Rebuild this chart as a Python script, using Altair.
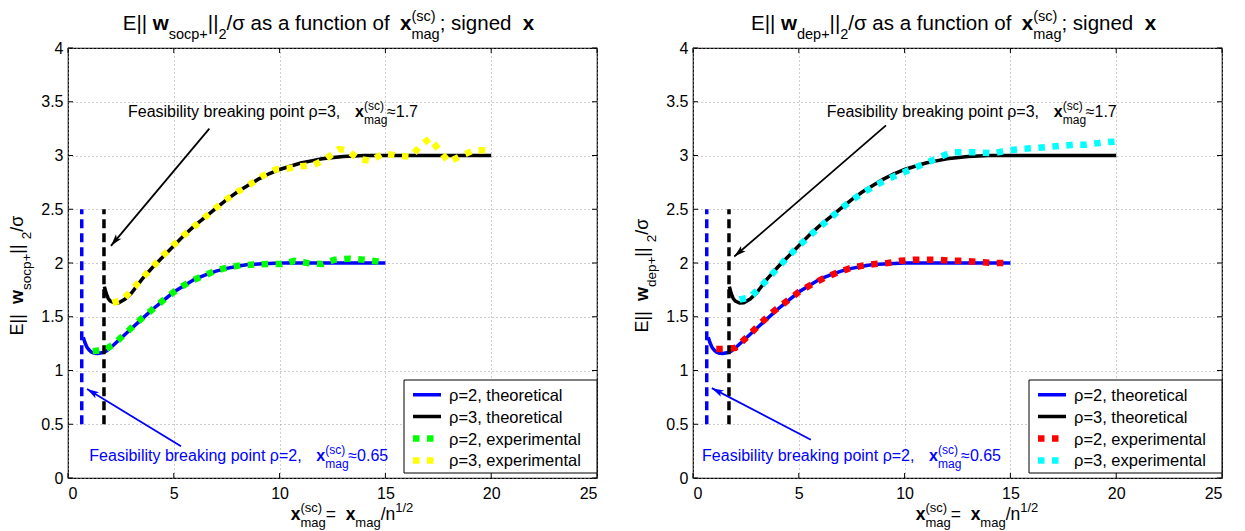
import math
import altair as alt
import pandas as pd

FONT = "Liberation Sans"

# ------------------------------------------------------------------ data
SERIES = ["ρ=2, theoretical", "ρ=3, theoretical", "ρ=2, experimental", "ρ=3, experimental"]

x_ticks = [0, 5, 10, 15, 20, 25]
y_ticks = [0, 0.5, 1, 1.5, 2, 2.5, 3, 3.5, 4]

break_rho2 = 0.65
break_rho3 = 1.7
break_y0 = 0.5
break_y1 = 2.5

# theoretical curves (same in both panels)
th2_x = [0.72, 0.8, 0.9, 1.0, 1.1, 1.25, 1.4, 1.6, 1.8, 2.0, 2.5, 3.0, 3.5, 4.0, 4.5, 5.0,
         5.5, 6.0, 6.5, 7.0, 7.5, 8.0, 8.5, 9.0, 10.0, 12.0, 15.0]
th2_y = [1.31, 1.26, 1.215, 1.19, 1.172, 1.16, 1.158, 1.165, 1.18, 1.21, 1.30, 1.39, 1.48, 1.57,
         1.65, 1.73, 1.79, 1.85, 1.89, 1.925, 1.95, 1.97, 1.985, 1.99, 2.0, 2.0, 2.0]
th3_x = [1.72, 1.8, 1.9, 2.0, 2.2, 2.4, 2.7, 3.0, 3.5, 4.0, 4.5, 5.0, 5.5, 6.0, 6.5, 7.0, 7.5,
         8.0, 8.5, 9.0, 9.5, 10.0, 10.5, 11.0, 11.5, 12.0, 13.0, 14.0, 20.0]
th3_y = [1.78, 1.72, 1.67, 1.645, 1.628, 1.63, 1.665, 1.72, 1.85, 1.96, 2.06, 2.16, 2.26, 2.35,
         2.43, 2.51, 2.59, 2.66, 2.72, 2.78, 2.83, 2.87, 2.90, 2.93, 2.95, 2.97, 2.99, 3.0, 3.0]

# left panel experimental (socp+)
exL2_x = [1.17, 1.7, 2.2, 2.8, 3.4, 4.0, 4.6, 5.2, 5.8, 6.4, 7.0, 7.6, 8.2, 8.8, 9.5, 10.1,
          10.7, 11.3, 12.0, 12.6, 13.3, 14.0, 14.8]
exL2_y = [1.18, 1.19, 1.25, 1.36, 1.47, 1.57, 1.67, 1.76, 1.83, 1.88, 1.93, 1.96, 1.98, 1.985,
          1.99, 1.99, 2.02, 2.0, 1.99, 2.03, 2.04, 2.03, 2.01]
exL3_x = [2.1, 2.6, 3.2, 3.8, 4.4, 5.0, 5.6, 6.2, 6.8, 7.4, 8.0, 8.6, 9.2, 9.8, 10.4, 11.0,
          11.6, 12.2, 12.8, 13.2, 13.7, 14.3, 14.9, 15.5, 16.2, 16.7, 17.1, 17.5, 18.0, 18.6,
          19.2, 19.9]
exL3_y = [1.63, 1.66, 1.79, 1.92, 2.05, 2.17, 2.28, 2.38, 2.48, 2.58, 2.66, 2.73, 2.81, 2.87,
          2.88, 2.90, 2.91, 2.97, 3.06, 3.05, 2.97, 2.95, 3.02, 3.0, 2.99, 3.10, 3.16, 3.06,
          2.94, 3.0, 3.05, 3.05]

# right panel experimental (dep+)
exR2_x = [1.1, 1.6, 2.0, 2.6, 3.2, 3.8, 4.4, 5.0, 5.6, 6.2, 6.8, 7.4, 8.0, 8.6, 9.2, 9.8,
          10.4, 11.0, 11.6, 12.2, 12.8, 13.5, 14.2, 14.9]
exR2_y = [1.2, 1.2, 1.21, 1.32, 1.44, 1.55, 1.64, 1.73, 1.80, 1.86, 1.91, 1.95, 1.975, 1.99,
          2.0, 2.02, 2.03, 2.03, 2.03, 2.02, 2.02, 2.01, 2.0, 2.0]
exR3_x = [2.2, 2.7, 3.2, 3.8, 4.4, 5.0, 5.6, 6.2, 6.8, 7.4, 8.0, 8.6, 9.2, 9.8, 10.4, 11.0,
          11.6, 12.2, 12.8, 13.4, 14.2, 14.9, 15.5, 16.2, 16.8, 17.4, 18.0, 18.6, 19.3, 20.0]
exR3_y = [1.66, 1.68, 1.78, 1.91, 2.04, 2.16, 2.27, 2.37, 2.47, 2.57, 2.65, 2.72, 2.78, 2.83,
          2.88, 2.93, 2.98, 3.03, 3.03, 3.03, 3.02, 3.05, 3.06, 3.07, 3.08, 3.09, 3.10, 3.10,
          3.12, 3.13]

# annotation arrows: start (x, y) -> end (x, y)
arrL_black = [6.68, 3.25, 2.03, 2.16]
arrL_blue = [5.34, 0.295, 0.90, 0.827]
arrR_black = [9.12, 3.28, 1.95, 2.06]
arrR_blue = [5.57, 0.356, 0.89, 0.836]

# annotation text anchors (left start of text, baseline)
txtL_black = [2.835, 3.355]
txtL_blue = [1.007, 0.158]
txtR_black = [6.32, 3.355]
txtR_blue = [0.43, 0.158]

# ------------------------------------------------------------------ layout helpers
W, H = 529, 430
XD, YD = [0, 25], [0, 4]
TICK_PX = 5

CW = {' ': .278, 'E': .667, '|': .26, '/': .278, 'σ': .571, 'ρ': .571, 'a': .556, 's': .5,
      'f': .278, 'u': .556, 'n': .556, 'c': .5, 't': .278, 'i': .222, 'o': .556, ';': .278,
      'g': .556, 'e': .556, 'd': .556, 'p': .556, '+': .584, 'm': .833, '=': .584, '(': .333,
      ')': .333, 'F': .611, 'b': .556, 'l': .222, 'y': .5, 'k': .5, 'r': .333, 'h': .556,
      'x': .5, ',': .278, '.': .278, '≈': .584, 'w': .722}
CWB = {'x': .556, 'w': .778}


def tw(s, size, bold=False):
    tot = 0.0
    for c in s:
        if bold and c in CWB:
            tot += CWB[c]
        else:
            tot += CW.get(c, .556)
    return tot * size


def rich(segs, main, small):
    """returns pieces (text, offset, shift, size, weight) and total advance"""
    out, off = [], 0.0
    sub_sh, sup_sh = 0.42 * main, -0.45 * main
    for seg in segs:
        k = seg[0]
        if k == "n":
            out.append((seg[1], off, 0, main, "normal"))
            off += tw(seg[1], main)
        elif k == "b":
            out.append((seg[1], off, 0, main, "bold"))
            off += tw(seg[1], main, True)
        elif k == "sub":
            out.append((seg[1], off, sub_sh, small, "normal"))
            off += tw(seg[1], small)
        elif k == "sup":
            out.append((seg[1], off, sup_sh, small, "normal"))
            off += tw(seg[1], small)
        elif k == "stack":
            out.append((seg[1], off, sup_sh, small, "normal"))
            out.append((seg[2], off, sub_sh, small, "normal"))
            off += max(tw(seg[1], small), tw(seg[2], small))
    return out, off


ONE = pd.DataFrame({"k": [0]})
xscale = alt.Scale(domain=XD, nice=False, zero=False)
yscale = alt.Scale(domain=YD, nice=False, zero=False)
xaxis = alt.Axis(values=x_ticks, format="d", title=None, labelPadding=7)
yaxis = alt.Axis(values=y_ticks, format="~g", title=None, labelPadding=5)


def X(f):
    return alt.X(f, scale=xscale, axis=xaxis)


def Y(f):
    return alt.Y(f, scale=yscale, axis=yaxis)


def pixel_text(segs, main, small, x0, y0, color="black", rotate=False):
    pieces, total = rich(segs, main, small)
    layers = []
    for text, off, sh, size, weight in pieces:
        if rotate:
            px, py, ang = x0 + sh, y0 + total / 2 - off, 270
        else:
            px, py, ang = x0 - total / 2 + off, y0 + sh, 0
        layers.append(
            alt.Chart(ONE).mark_text(text=text, align="left", baseline="alphabetic", font=FONT,
                                     fontSize=size, fontWeight=weight, color=color, angle=ang)
            .encode(x=alt.value(px), y=alt.value(py)))
    return layers


def data_text(anchor, parts, color):
    df = pd.DataFrame({"x": [anchor[0]], "y": [anchor[1]]})
    layers = []
    for text, dx, dy, size, weight in parts:
        layers.append(
            alt.Chart(df).mark_text(text=text, align="left", baseline="alphabetic", font=FONT,
                                    fontSize=size, fontWeight=weight, color=color, dx=dx, dy=dy)
            .encode(x=X("x:Q"), y=Y("y:Q")))
    return layers


ARROW = "M0,0L-0.55,1.9L0,1.45L0.55,1.9Z"


def arrow(a, color):
    x0, y0, x1, y1 = a
    df = pd.DataFrame({"xs": [x0], "ys": [y0], "xe": [x1], "ye": [y1]})
    ang = math.degrees(math.atan2((x1 - x0) * W / 25, (y1 - y0) * H / 4)) % 360
    line = alt.Chart(df).mark_rule(color=color, strokeWidth=1.8).encode(
        x=X("xs:Q"), y=Y("ys:Q"), x2="xe:Q", y2="ye:Q")
    head = alt.Chart(df).mark_point(shape=ARROW, filled=True, size=160, angle=ang, color=color,
                                    opacity=1, strokeWidth=0).encode(x=X("xe:Q"), y=Y("ye:Q"))
    return [line, head]


def tick_layers():
    dy = TICK_PX * (YD[1] - YD[0]) / H
    dx = TICK_PX * (XD[1] - XD[0]) / W
    xt = pd.DataFrame({"x": x_ticks})
    yt = pd.DataFrame({"y": y_ticks})
    out = []
    for ya, yb in [(YD[0], YD[0] + dy), (YD[1], YD[1] - dy)]:
        out.append(alt.Chart(xt).mark_rule(color="black", strokeWidth=1).encode(
            x=X("x:Q"), y=alt.datum(ya, scale=yscale, axis=yaxis), y2=alt.datum(yb)))
    for xa, xb in [(XD[0], XD[0] + dx), (XD[1], XD[1] - dx)]:
        out.append(alt.Chart(yt).mark_rule(color="black", strokeWidth=1).encode(
            y=Y("y:Q"), x=alt.datum(xa, scale=xscale, axis=xaxis), x2=alt.datum(xb)))
    return out


def legend_layers(colors):
    bx0, by0, bw, bh = 336, 332, 193, 93
    out = [alt.Chart(ONE).mark_rect(fill="white", stroke="black", strokeWidth=1).encode(
        x=alt.value(bx0), x2=alt.value(bx0 + bw), y=alt.value(by0), y2=alt.value(by0 + bh))]
    for i, (lab, col) in enumerate(zip(SERIES, colors)):
        yy = by0 + 14.7 + i * 21.9
        theo = i < 2
        out.append(alt.Chart(ONE).mark_rule(
            color=col, strokeWidth=3.5 if theo else 6.5,
            strokeDash=[1, 0] if theo else [6.5, 7.5], strokeCap="butt").encode(
            x=alt.value(bx0 + 9), x2=alt.value(bx0 + 37), y=alt.value(yy)))
        out.append(alt.Chart(ONE).mark_text(
            text=lab, align="left", baseline="middle", font=FONT, fontSize=16.5,
            color="black").encode(x=alt.value(bx0 + 45), y=alt.value(yy + 1)))
    return out


def line_layer(df, colors, width):
    enc = dict(
        x=X("x:Q"), y=Y("y:Q"),
        color=alt.Color("series:N", scale=alt.Scale(domain=SERIES, range=colors), legend=None),
        order="i:Q",
    )
    if width > 5:
        mk = alt.Chart(df).mark_line(strokeCap="butt", strokeWidth=width, strokeDash=[6.5, 7.5])
    else:
        mk = alt.Chart(df).mark_line(strokeCap="butt", strokeWidth=width)
    return mk.encode(**enc)


def sdf(xs, ys, name):
    return pd.DataFrame({"x": xs, "y": ys, "series": name, "i": list(range(len(xs)))})


def annot_parts(main_text, approx, main=16, small=12):
    return [
        (main_text, 0, 0, main, "normal"),
        ("x", 227, 0, main, "bold"),
        ("(sc)", 236, -0.45 * main, small, "normal"),
        ("mag", 236, 0.42 * main, small, "normal"),
        (approx, 259, 0, main, "normal"),
    ]


def panel(wsub, ex2x, ex2y, ex3x, ex3y, colors, arr_black, arr_blue, t_black, t_blue):
    theory = pd.concat([sdf(th2_x, th2_y, SERIES[0]), sdf(th3_x, th3_y, SERIES[1])])
    exper = pd.concat([sdf(ex2x, ex2y, SERIES[2]), sdf(ex3x, ex3y, SERIES[3])])
    layers = [line_layer(theory, colors, 3.5), line_layer(exper, colors, 6.5)]
    layers += tick_layers()

    for xb, col in [(break_rho2, "#0000ff"), (break_rho3, "black")]:
        bdf = pd.DataFrame({"x": [xb], "y0": [break_y0], "y1": [break_y1]})
        layers.append(alt.Chart(bdf).mark_rule(color=col, strokeWidth=3.5, strokeDash=[9, 5])
                      .encode(x=X("x:Q"), y=Y("y0:Q"), y2="y1:Q"))

    layers += arrow(arr_black, "black")
    layers += arrow(arr_blue, "#0000ff")
    layers += data_text(t_black, annot_parts("Feasibility breaking point ρ=3,", "≈1.7"), "black")
    layers += data_text(t_blue, annot_parts("Feasibility breaking point ρ=2,", "≈0.65"), "#0000ff")
    layers += legend_layers(colors)

    # title
    title_segs = [("n", "E|| "), ("b", "w"), ("sub", wsub), ("n", "||"), ("sub", "2"),
                  ("n", "/σ as a function of  "), ("b", "x"), ("stack", "(sc)", "mag"),
                  ("n", "; signed  "), ("b", "x")]
    layers += pixel_text(title_segs, 20.5, 14.5, W / 2 - 4, -18)
    # y title
    ysegs = [("n", "E||  "), ("b", "w"), ("sub", wsub), ("n", " ||"), ("sub", "2"), ("n", "/σ")]
    layers += pixel_text(ysegs, 18, 13.5, -45, 228, rotate=True)
    # x title
    xsegs = [("b", "x"), ("stack", "(sc)", "mag"), ("n", "=  "), ("b", "x"), ("sub", "mag"),
             ("n", "/n"), ("sup", "1/2")]
    layers += pixel_text(xsegs, 17.5, 13, 284, 472)

    return alt.layer(*layers).properties(width=W, height=H)


left = panel("socp+", exL2_x, exL2_y, exL3_x, exL3_y,
             ["#0000ff", "black", "#00ff00", "#ffff00"],
             arrL_black, arrL_blue, txtL_black, txtL_blue)
right = panel("dep+", exR2_x, exR2_y, exR3_x, exR3_y,
              ["#0000ff", "black", "#ff0000", "#00ffff"],
              arrR_black, arrR_blue, txtR_black, txtR_blue)

chart = (
    alt.hconcat(left, right, spacing=96, bounds="flush")
    .resolve_scale(color="independent")
    .properties(padding=0, background="white")
    .configure_view(stroke="black", strokeWidth=1.2)
    .configure_axis(grid=True, gridColor="#9a9a9a", gridDash=[1, 3], gridWidth=1,
                    domain=False, ticks=False, tickSize=0, labelFont=FONT, labelFontSize=16,
                    labelColor="black")
)

chart.save("out.html", embed_options={"renderer": "svg", "actions": False})
